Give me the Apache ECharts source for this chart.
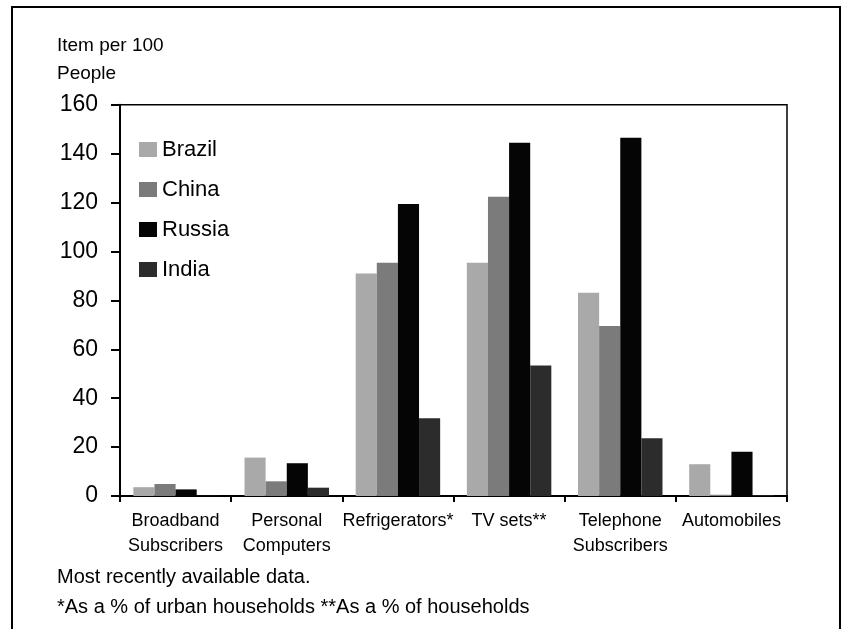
<!DOCTYPE html>
<html>
<head>
<meta charset="utf-8">
<script src="https://cdn.jsdelivr.net/npm/echarts@6/dist/echarts.min.js"></script>
<style>
  html, body { margin: 0; padding: 0; background: #fff; }
  #chart { width: 847px; height: 629px; }
</style>
</head>
<body>
<div id="chart"></div>
<script>
// Household items per 100 people in the BRIC economies
const categories = [
  'Broadband\nSubscribers',
  'Personal\nComputers',
  'Refrigerators*',
  'TV sets**',
  'Telephone\nSubscribers',
  'Automobiles'
];
const countries = ['Brazil', 'China', 'Russia', 'India'];
const brazil = [3.6, 15.7, 91.0, 95.4, 83.1, 13.0];
const china  = [4.9, 6.0, 95.4, 122.4, 69.5, 0.5];
const russia = [2.7, 13.4, 119.4, 144.4, 146.5, 18.1];
const india  = [0.1, 3.4, 31.8, 53.4, 23.6, 0.3];
const yTicks = { min: 0, max: 160, step: 20 };

const FONT = '"Liberation Sans", Arial, Helvetica, sans-serif';
const colors = ['#a9a9a9', '#7b7b7b', '#050505', '#2c2c2c'];
const seriesValues = [brazil, china, russia, india];

const chart = echarts.init(document.getElementById('chart'), null, { renderer: 'canvas' });

chart.setOption({
  backgroundColor: '#ffffff',
  animation: false,
  textStyle: { fontFamily: FONT, color: '#000' },
  grid: {
    left: 120, right: 60, top: 104.7, bottom: 133,
    show: true, borderColor: '#000', borderWidth: 1.5, backgroundColor: 'transparent'
  },
  legend: {
    orient: 'vertical',
    left: 139,
    top: 138.5,
    padding: 0,
    itemWidth: 18,
    itemHeight: 15,
    itemGap: 18,
    icon: 'rect',
    data: countries,
    textStyle: { fontFamily: FONT, fontSize: 22, color: '#000', lineHeight: 22 }
  },
  xAxis: {
    type: 'category',
    data: categories,
    axisLine: { lineStyle: { color: '#000', width: 2 } },
    axisTick: { show: true, length: 6, lineStyle: { color: '#000', width: 2 } },
    axisLabel: {
      interval: 0, fontSize: 18, lineHeight: 25, color: '#000',
      fontFamily: FONT, margin: 13
    }
  },
  yAxis: {
    type: 'value',
    min: yTicks.min, max: yTicks.max, interval: yTicks.step,
    axisLine: { show: true, lineStyle: { color: '#000', width: 2 } },
    axisTick: { show: true, length: 9, lineStyle: { color: '#000', width: 2 } },
    splitLine: { show: false },
    axisLabel: { fontSize: 23, color: '#000', fontFamily: FONT, margin: 22 }
  },
  series: countries.map((name, i) => ({
    name,
    type: 'bar',
    data: seriesValues[i],
    barGap: '0%',
    barCategoryGap: '24%',
    itemStyle: { color: colors[i] }
  })),
  graphic: [
    {
      type: 'rect',
      shape: { x: 12, y: 7, width: 828, height: 640 },
      style: { fill: 'none', stroke: '#000', lineWidth: 2 },
      silent: true
    },
    {
      type: 'text', left: 57, top: 36,
      style: { text: 'Item per 100', font: '19px ' + FONT, fill: '#000' }
    },
    {
      type: 'text', left: 57, top: 64,
      style: { text: 'People', font: '19px ' + FONT, fill: '#000' }
    },
    {
      type: 'text', left: 57, top: 567,
      style: { text: 'Most recently available data.', font: '20px ' + FONT, fill: '#000' }
    },
    {
      type: 'text', left: 57, top: 597,
      style: { text: '*As a % of urban households **As a % of households', font: '20px ' + FONT, fill: '#000' }
    }
  ]
});
</script>
</body>
</html>
